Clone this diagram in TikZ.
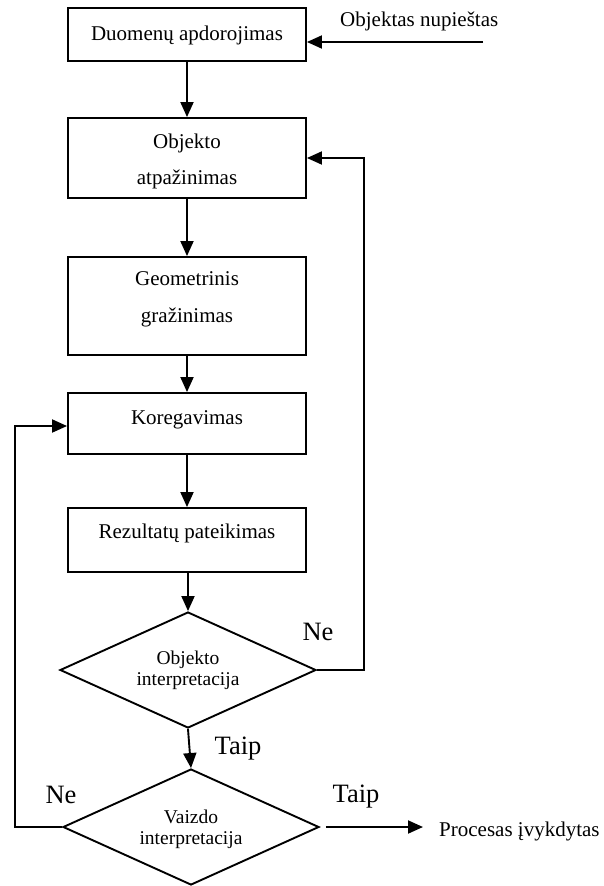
\documentclass[tikz,border=0pt]{standalone}
\usepackage{fontspec}
\setmainfont{Liberation Serif}
\usetikzlibrary{arrows.meta,shapes.geometric}
\begin{document}
\begin{tikzpicture}[x=1pt,y=-1pt,
  box/.style={draw, line width=1.9pt, minimum width=238pt, inner sep=0pt},
  dec/.style={draw, diamond, line width=1.9pt, minimum width=256pt, minimum height=116pt, inner sep=0pt},
  txt/.style={font=\fontsize{21}{25}\selectfont, inner sep=0pt, anchor=base},
  dtxt/.style={font=\fontsize{19.5}{23}\selectfont, inner sep=0pt, anchor=base},
  lbl/.style={font=\fontsize{26.5}{31}\selectfont, inner sep=0pt, anchor=base},
  arr/.style={line width=1.9pt, -{Triangle[length=15pt,width=13pt]}}]
\useasboundingbox (0,0) rectangle (603,886);
% boxes
\node[box, minimum height=53pt] (b1) at (187,34.5) {};
\node[box, minimum height=80pt] (b2) at (187,158) {};
\node[box, minimum height=98pt] (b3) at (187,306) {};
\node[box, minimum height=61pt] (b4) at (187,423.5) {};
\node[box, minimum height=64pt] (b5) at (187,540) {};
\node[dec] (d1) at (188,670) {};
\node[dec] (d2) at (191,827) {};
% texts
\node[txt] (t1) at (187,40) {Duomenų apdorojimas};
\node[txt] (t2a) at (187,148) {Objekto};
\node[txt] (t2b) at (187,184) {atpažinimas};
\node[txt] (t3a) at (187,285) {Geometrinis};
\node[txt] (t3b) at (187,322) {gražinimas};
\node[txt] (t4) at (187,424) {Koregavimas};
\node[txt] (t5) at (187,538) {Rezultatų pateikimas};
\node[dtxt] (t6a) at (188,664) {Objekto};
\node[dtxt] (t6b) at (188,685) {interpretacija};
\node[dtxt] (t7a) at (191,823) {Vaizdo};
\node[dtxt] (t7b) at (191,844) {interpretacija};
\node[txt, anchor=base west] (tin) at (340,27) {Objektas nupieštas};
\node[txt, anchor=base west] (tout) at (439,836) {Procesas įvykdytas};
\node[lbl] (ne1) at (318,640) {Ne};
\node[lbl] (taip1) at (238,754) {Taip};
\node[lbl] (ne2) at (61,803) {Ne};
\node[lbl] (taip2) at (356,802) {Taip};
% coordinates
\coordinate (inp) at (483,42);
\coordinate (rc) at (364,158);
\coordinate (lc) at (15,426);
\coordinate (outp) at (423,827);
% connectors
\draw[arr] (inp) -- (inp -| b1.east);
\draw[arr] (b1.south) -- (b2.north);
\draw[arr] (b2.south) -- (b3.north);
\draw[arr] (b3.south) -- (b4.north);
\draw[arr] (b4.south) -- (b5.north);
\draw[arr] (b5.south -| d1.north) -- (d1.north);
\draw[arr] (d1.south) -- (d2.north);
\draw[arr] (d1.east) -| (rc) -- (rc -| b2.east);
\draw[arr] (d2.west) -| (lc) -- (lc -| b4.west);
\draw[arr] ([xshift=6pt]d2.east) -- (outp);
\end{tikzpicture}
\end{document}
